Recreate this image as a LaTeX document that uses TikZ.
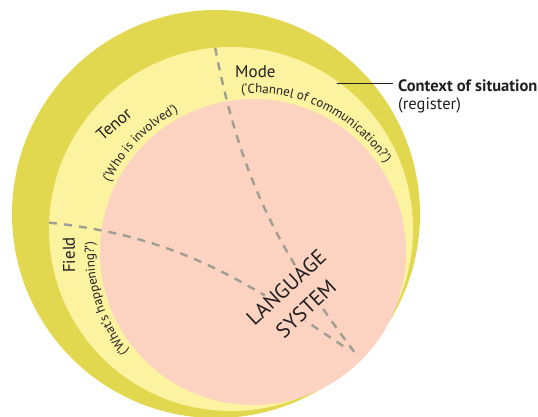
\documentclass[tikz,border=0pt]{standalone}
\usepackage{fontspec}
\setmainfont{PT Sans}
\usetikzlibrary{decorations.text, positioning}
\definecolor{ctxyellow}{RGB}{226,216,80}
\definecolor{regyellow}{RGB}{252,243,160}
\definecolor{langpink}{RGB}{252,211,193}
\definecolor{dashgrey}{RGB}{160,158,146}
\definecolor{ink}{RGB}{35,31,32}

\begin{document}
\begin{tikzpicture}[x = 1pt, y = 1pt,
    dashline/.style = {draw = dashgrey, line width = 2.4pt, dash pattern = on 8pt off 7pt},
    heading/.style = {font = \fontsize{17}{20}\selectfont, text = ink, inner sep = 0pt},
    sidelabel/.style = {font = \fontsize{16.5}{19}\selectfont, text = ink, inner sep = 0pt},
    arctext/.style = {decorate, decoration = {text along path, text align = center,
        text color = ink, text = {|\fontsize{13}{15}\selectfont|#1}}}]
    \useasboundingbox (0,0) rectangle (538,416);
    % the three circles
    \coordinate (o1) at (216,202);
    \coordinate (o2) at (231,187);
    \coordinate (o3) at (253,164);
    \fill[ctxyellow] (o1) circle[radius = 204];
    \fill[regyellow] (o2) circle[radius = 182];
    \fill[langpink] (o3) circle[radius = 153];
    % dashed borders between field, tenor and mode
    \coordinate (m1) at ([shift = {(95:182)}]o2);
    \coordinate (m2) at (358,59);
    \coordinate (f1) at ([shift = {(178:182)}]o2);
    \coordinate (f2) at (349,66);
    \draw[dashline] (m1) to[out = -79, in = 127] (m2);
    \draw[dashline] (f1) to[out = -6, in = 146] (f2);
    % headings
    \node[heading, anchor = base west] (mode) at (235,338) {Mode};
    \node[heading, rotate = 41] (tenor) at (114,292) {Tenor};
    \node[heading, rotate = 91] (field) at (69,161) {Field};
    \path[arctext = {(‘Channel of communication?’)}] ([shift = {(112:159)}]o3)
        arc[start angle = 112, end angle = 16, radius = 159];
    \path[arctext = {(‘Who is involved’)}] ([shift = {(170:159)}]o3)
        arc[start angle = 170, end angle = 102, radius = 159];
    \path[arctext = {(‘What’s happening?’)}] ([shift = {(245:159)}]o3)
        arc[start angle = 245, end angle = 150, radius = 159];
    \node[rotate = 43, align = center, font = \fontsize{21}{29}\selectfont, text = ink,
        fill = langpink, inner sep = 1pt] (lang) at (296,118) {LANGUAGE\\SYSTEM};
    % context of situation
    \node[sidelabel, font = \fontsize{16.5}{19}\selectfont\bfseries, anchor = base west,
        inner xsep = 5pt] (ctx) at (393,324) {Context of situation};
    \node[sidelabel, below right = 5pt and 5pt of ctx.south west, anchor = north west] (reg) {(register)};
    \coordinate (e) at ([shift = {(54:180)}]o2);
    \draw[ink, line width = 1.4pt] (e) -- (e -| ctx.west);
\end{tikzpicture}
\end{document}
